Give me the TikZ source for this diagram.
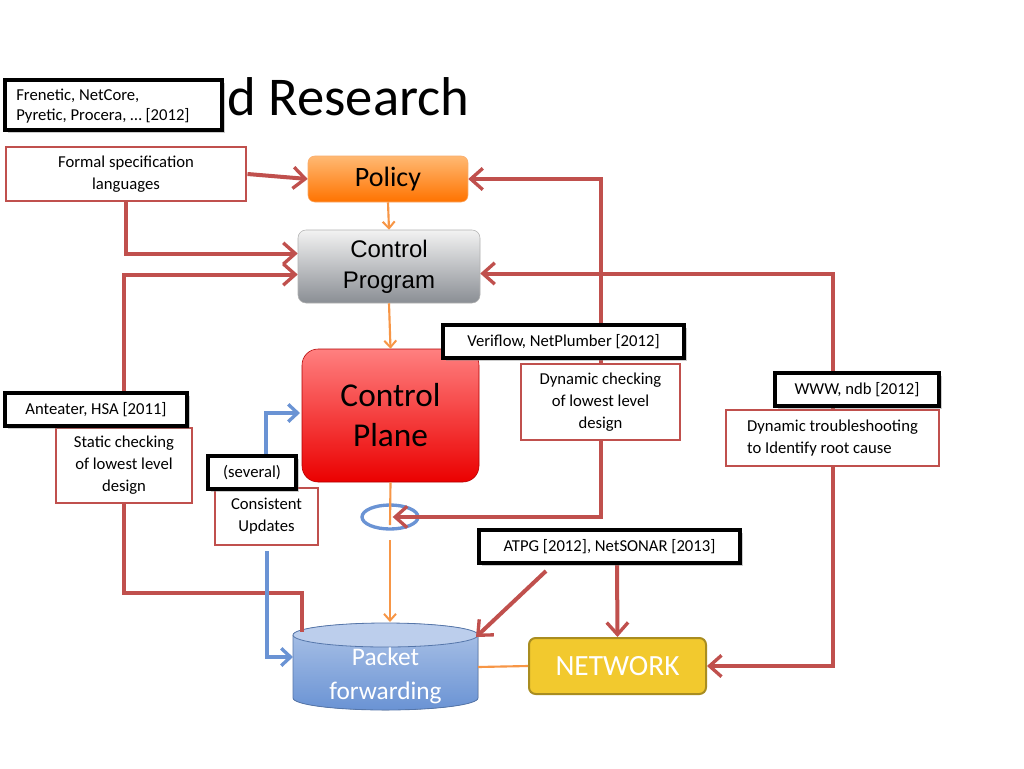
\documentclass[tikz,border=0pt]{standalone}
\usepackage{fontspec}
\setmainfont{Carlito}
\newfontfamily\arialf{Liberation Sans}
\usetikzlibrary{arrows.meta,shadows}
\definecolor{rd}{HTML}{C0504D}
\definecolor{org}{HTML}{F79646}
\definecolor{blu}{HTML}{6A93D4}
\definecolor{cpbot}{RGB}{138,142,148}
\definecolor{ylw}{HTML}{F2C92E}
\begin{document}
\begin{tikzpicture}[x=0.75pt,y=-0.75pt,
  rl/.style={draw=rd,line width=3pt},
  ra/.style={rl,-{Straight Barb[length=9pt,width=16pt,line width=2.5pt]}},
  ol/.style={draw=org,line width=1.6pt},
  oa/.style={ol,-{Straight Barb[length=5pt,width=9pt,line width=1.5pt]}},
  bl/.style={draw=blu,line width=3pt},
  ba/.style={bl,-{Straight Barb[length=7pt,width=13pt,line width=2.5pt]}},
  bbox/.style={draw=black,line width=3pt,fill=white,inner sep=0pt,font=\fontsize{12.5}{14.5}\selectfont,drop shadow={shadow xshift=2pt,shadow yshift=-2pt,opacity=0.4}},
  rbox/.style={draw=rd,line width=2.2pt,fill=white,inner sep=0pt,align=center,font=\fontsize{12.5}{16.5}\selectfont},
]
\useasboundingbox (0,0) rectangle (1024,768);
\fill[white] (0,0) rectangle (1024,768);
% title
\node[anchor=east,font=\fontsize{41}{44}\selectfont] (title) at (474,97) {d Research};
\node[rbox,minimum width={0.75*240pt},minimum height={0.75*54pt}] (formal) at (126,174) {Formal specification\\languages};
\node[rounded corners=5pt,top color=orange!55!white,bottom color=orange!90!red,draw=org!80!white,minimum width={0.75*160pt},minimum height={0.75*46pt},font=\fontsize{21}{24}\selectfont] (policy) at (388,179) {Policy};
\node[rounded corners=6pt,top color=gray!10,bottom color=cpbot,draw=gray!60,minimum width={0.75*182pt},minimum height={0.75*73pt},align=center,font=\arialf\fontsize{18}{23}\selectfont] (cprog) at (389,266.5) {Control\\Program};
\node[rounded corners=12pt,top color=red!50!white,bottom color=red!92!black,draw=red!70!black,minimum width={0.75*177pt},minimum height={0.75*133pt},align=center,font=\fontsize{25}{30}\selectfont] (cplane) at (390.5,415.5) {Control\\Plane};
\draw[blu,line width=2.5pt] (390,517) ellipse (28 and 12);
\coordinate (ell) at (390,517);
% cylinder
\fill[top color=blu!55!white,bottom color=blu] (293,635) -- (293,698) arc[start angle=180,end angle=0,x radius=92.5,y radius=12] -- (478,635) arc[start angle=0,end angle=-180,x radius=92.5,y radius=12];
\draw[blu!80!black,line width=0.6pt] (293,635) -- (293,698) arc[start angle=180,end angle=0,x radius=92.5,y radius=12] -- (478,635);
\draw[blu!80!black,line width=0.6pt,fill=blu!45!white] (385.5,635) ellipse (92.5 and 12);
\node[font=\fontsize{19}{25}\selectfont,text=white,align=center] (pkt) at (385.5,676) {Packet\\forwarding};
\node[rounded corners=5pt,fill=ylw,draw=ylw!70!black,line width=1.5pt,minimum width={0.75*177pt},minimum height={0.75*56pt},text=white,font=\fontsize{22}{26}\selectfont] (net) at (617.5,666) {NETWORK};
\node[rbox,minimum width={0.75*159pt},minimum height={0.75*76pt}] (dyn) at (600.5,402) {Dynamic checking\\of lowest level\\design};
\node[rbox,minimum width={0.75*213pt},minimum height={0.75*56pt},align=left] (trou) at (832.5,438) {Dynamic troubleshooting\\to Identify root cause};
\node[rbox,minimum width={0.75*136pt},minimum height={0.75*75pt}] (stat) at (124,465.5) {Static checking\\of lowest level\\design};
\node[rbox,minimum width={0.75*103pt},minimum height={0.75*57pt}] (cons) at (266.5,516.5) {Consistent\\Updates};
\coordinate (atpgs) at (617,565);
\coordinate (atpgl) at (546,571);
% red connectors
\draw[ra] (formal.east) -- (policy.west);
\draw[ra] (formal.south) |- ([yshift=13*0.75pt]cprog.west);
\draw[ra] (stat.north) |- ([yshift=-8*0.75pt]cprog.west);
\draw[rl] (stat.south) |- (302,593) -- (302,632);
\draw[ra] (dyn.north) |- (policy.east);
\draw[ra] (dyn.south) |- ([xshift=2pt]ell.east);
\draw[ra] (trou.north) |- ([yshift=-7*0.75pt]cprog.east);
\draw[ra] (trou.south) |- (net.east);
\draw[ra] (atpgl) -- (476,637);
\draw[ra] (atpgs) -- (net.north);
% orange
\draw[oa] (policy.south) -- (cprog.north);
\draw[oa] (cprog.south) -- (cplane.north);
\draw[ol] (cplane.south) -- (390,525);
\draw[oa] (390,540) -- (390,622);
\draw[ol] (478,667) -- (net.west);
% blue
\draw[ba] (cons.south) ++(0,5) |- (293,657);
\draw[ba] (266,456) |- (300,413);
% black labels on top
\node[bbox,minimum width={0.75*217pt},minimum height={0.75*50pt}] (fren) at (113.5,105) {};
\node[anchor=west,align=left,font=\fontsize{12.5}{15}\selectfont,inner sep=0pt] (frent) at (16,106) {Frenetic, NetCore,\\Pyretic, Procera, … [2012]};
\node[bbox,minimum width={0.75*241pt},minimum height={0.75*33pt}] (veri) at (563.5,341.5) {Veriflow, NetPlumber [2012]};
\node[bbox,minimum width={0.75*164pt},minimum height={0.75*33pt}] (www) at (857,389.5) {WWW, ndb [2012]};
\node[bbox,minimum width={0.75*182pt},minimum height={0.75*33pt}] (ant) at (96,409.5) {Anteater, HSA [2011]};
\node[bbox,minimum width={0.75*88pt},minimum height={0.75*33pt}] (sev) at (252,472.5) {(several)};
\node[bbox,minimum width={0.75*261pt},minimum height={0.75*33pt}] (atpg) at (609.5,546.5) {ATPG [2012], NetSONAR [2013]};
\end{tikzpicture}
\end{document}
